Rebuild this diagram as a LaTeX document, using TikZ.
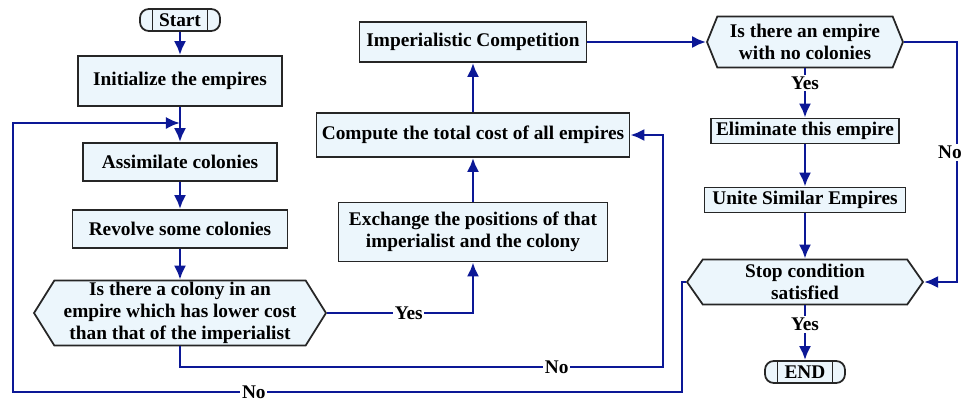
\documentclass[tikz,border=0pt]{standalone}
\usepackage{fontspec}
\setmainfont{Liberation Serif}
\usetikzlibrary{arrows.meta,shapes.symbols}
\definecolor{boxfill}{RGB}{236,246,252}
\definecolor{flowblue}{RGB}{12,24,150}
\begin{document}
\begin{tikzpicture}[
    x=0.02cm, y=-0.02cm,
    >={Latex[length=8pt,width=7pt]},
    every node/.style={font=\fontsize{11}{12.5}\selectfont\bfseries},
    process/.style={rectangle, draw=black!85, line width=1pt, fill=boxfill, align=center, inner sep=2pt},
    decision/.style={signal, signal to=west and east, draw=black!85, line width=1pt, fill=boxfill, align=center, inner sep=1pt},
    terminal/.style={rectangle, rounded corners=5pt, draw=black!85, line width=1pt, fill=boxfill,
      minimum width=1.6cm, minimum height=0.44cm, inner sep=1pt,
      path picture={
        \draw[line width=1pt] ([xshift=0.25cm]path picture bounding box.north west) -- ([xshift=0.25cm]path picture bounding box.south west);
        \draw[line width=1pt] ([xshift=-0.25cm]path picture bounding box.north east) -- ([xshift=-0.25cm]path picture bounding box.south east);
      }},
    flow/.style={->, draw=flowblue, line width=1.6pt},
    answer/.style={fill=white, inner sep=1pt}
  ]
  \useasboundingbox (0,0) rectangle (964,403);

  % Left column
  \node[terminal] (start) at (180,20) {Start};
  \node[process, minimum width=4.08cm, minimum height=1.0cm] (init) at (180,81) {Initialize the empires};
  \node[process, minimum width=3.88cm, minimum height=0.76cm] (assim) at (180,162) {Assimilate colonies};
  \node[process, minimum width=4.30cm, minimum height=0.76cm] (revolve) at (180,229) {Revolve some colonies};
  \node[decision, signal pointer angle=116, minimum width=5.84cm, minimum height=1.28cm] (colony) at (180,313)
    {Is there a colony in an\\empire which has lower cost\\than that of the imperialist};

  % Middle column
  \node[process, minimum width=5.38cm, minimum height=1.18cm] (exchange) at (473,232)
    {Exchange the positions of that\\imperialist and the colony};
  \node[process, minimum width=6.26cm, minimum height=0.88cm] (compute) at (473,135) {Compute the total cost of all empires};
  \node[process, minimum width=4.54cm, minimum height=0.80cm] (compete) at (473,42) {Imperialistic Competition};

  % Right column
  \node[decision, signal pointer angle=136, minimum width=3.92cm, minimum height=1.02cm] (noempty) at (805,42)
    {Is there an empire\\with no colonies};
  \node[process, minimum width=3.76cm, minimum height=0.50cm] (eliminate) at (805,131) {Eliminate this empire};
  \node[process, minimum width=4.02cm, minimum height=0.50cm] (unite) at (805,200) {Unite Similar Empires};
  \node[decision, signal pointer angle=110, minimum width=4.72cm, minimum height=0.90cm] (stop) at (805,282)
    {Stop condition\\satisfied};
  \node[terminal] (end) at (805,372) {END};

  % Turning points
  \coordinate (loopin) at (180,123);
  \coordinate (lcorner) at (13,392);
  \coordinate (mturn) at (663,367);
  \coordinate (rturn) at (957,42);

  % Connections
  \draw[flow] (start.south) -- (init.north);
  \draw[flow] (init.south) -- (assim.north);
  \draw[flow] (assim.south) -- (revolve.north);
  \draw[flow] (revolve.south) -- (colony.north);
  \draw[flow] (colony.east) -| node[answer, pos=0.28] {Yes} (exchange.south);
  \draw[flow] (exchange.north) -- (compute.south);
  \draw[flow] (compute.north) -- (compete.south);
  \draw[flow] (compete.east) -- (noempty.west);
  \draw[flow] (noempty.south) -- node[answer, pos=0.3] {Yes} (eliminate.north);
  \draw[flow] (eliminate.south) -- (unite.north);
  \draw[flow] (unite.south) -- (stop.north);
  \draw[flow] (stop.south) -- node[answer, pos=0.35] {Yes} (end.north);
  \draw[flow] (noempty.east) -- (rturn) -- node[answer, pos=0.46, xshift=-0.14cm] {No} (rturn |- stop.east) -- (stop.east);
  \draw[flow] (colony.south) |- node[answer, pos=0.89] {No} (mturn) |- (compute.east);
  \draw[flow] (stop.west) -- ++(-4,0) |- node[answer, pos=0.82] {No} (lcorner) |- (loopin);

\end{tikzpicture}
\end{document}
